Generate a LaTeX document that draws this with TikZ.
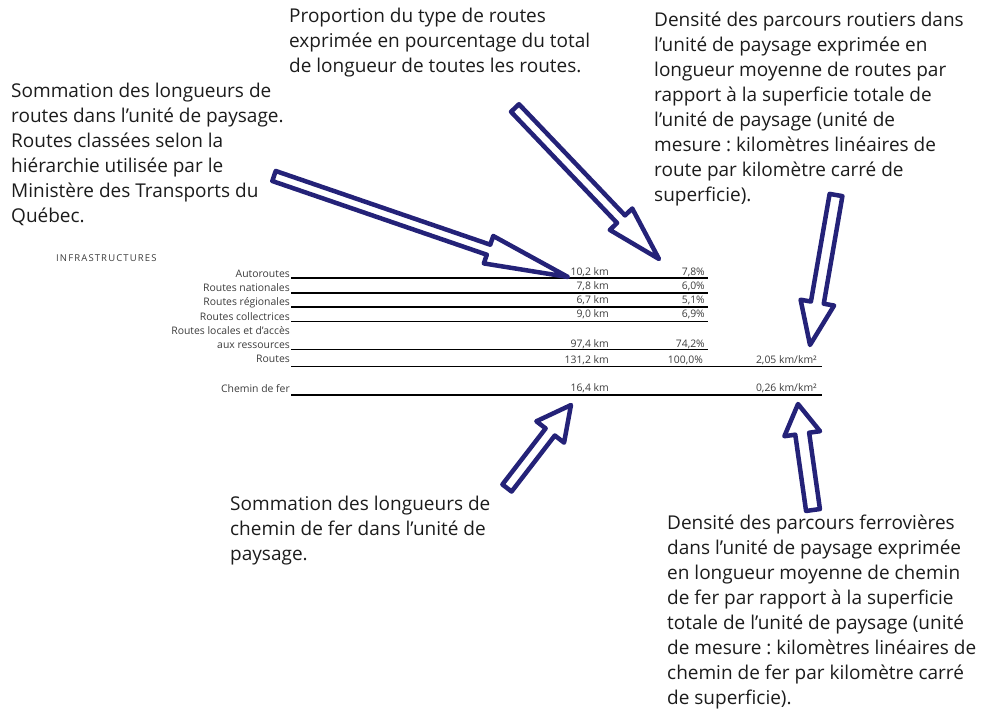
\documentclass[tikz,border=0pt]{standalone}
\usepackage{fontspec}
\setmainfont{Open Sans}[Ligatures={TeX,NoCommon}]
\usepackage{tikz}
\usetikzlibrary{shapes,arrows,calc}
\frenchspacing
\definecolor{navy}{RGB}{36,34,120}
\definecolor{ink}{RGB}{28,28,28}
\definecolor{grayink}{RGB}{60,60,60}
\tikzstyle{note} = [anchor=north west, inner sep=0pt, align=left, text=ink, font=\fontsize{19}{24.9}\selectfont]
\tikzstyle{rowlabel} = [anchor=base east, inner sep=0pt, text=grayink, font=\fontsize{10.4}{12}\selectfont]
\tikzstyle{cell} = [anchor=base east, inner sep=0pt, text=grayink, font=\fontsize{10.4}{12}\selectfont]
\tikzstyle{rule} = [draw, line width=1.3pt]
\tikzstyle{hollow} = [draw=navy, fill=white, line width=4.5pt, line join=round]
\newcommand{\hollowarrow}[5]{%
\draw[hollow] let \p1=(#1), \p2=(#2), \n1={atan2(\y2-\y1,\x2-\x1)}, \n2={veclen(\x2-\x1,\y2-\y1)}, \n3={\n2-#5pt} in
  [shift={(\p1)}, rotate=\n1] (0pt,#3pt) -- (\n3,#3pt) -- (\n3,#4pt) -- (\n2,0pt) -- (\n3,-#4pt) -- (\n3,-#3pt) -- (0pt,-#3pt) -- cycle;}

\begin{document}
\begin{tikzpicture}[x=1pt, y=-1pt]
\useasboundingbox (0,0) rectangle (986,710);

\node[note] (sumroutes) at (11,83) {Sommation des longueurs de\\routes dans l'unité de paysage.\\Routes classées selon la\\hiérarchie utilisée par le\\Ministère des Transports du\\Québec.};
\node[note] (proportion) at (289,8) {Proportion du type de routes\\exprimée en pourcentage du total\\de longueur de toutes les routes.};
\node[note] (densroutes) at (654,12) {Densité des parcours routiers dans\\l'unité de paysage exprimée en\\longueur moyenne de routes par\\rapport à la superficie totale de\\l'unité de paysage (unité de\\mesure : kilomètres linéaires de\\route par kilomètre carré de\\superficie).};
\node[note] (sumfer) at (230,496) {Sommation des longueurs de\\chemin de fer dans l'unité de\\paysage.};
\node[note] (densfer) at (667,515) {Densité des parcours ferrovières\\dans l'unité de paysage exprimée\\en longueur moyenne de chemin\\de fer par rapport à la superficie\\totale de l'unité de paysage (unité\\de mesure : kilomètres linéaires de\\chemin de fer par kilomètre carré\\de superficie).};

\node[anchor=base west, inner sep=0pt, text=grayink, font=\fontsize{9.5}{10}\selectfont\addfontfeature{LetterSpace=12}] (infra) at (56,261.5) {INFRASTRUCTURES};

\node[rowlabel] (autoroutes) at (290,277) {Autoroutes};
\node[rowlabel] (nationales) at (290,291) {Routes nationales};
\node[rowlabel] (regionales) at (290,305) {Routes régionales};
\node[rowlabel] (collectrices) at (290,320) {Routes collectrices};
\node[rowlabel] (locales) at (290,334) {Routes locales et d'accès};
\node[rowlabel] (ressources) at (290,348) {aux ressources};
\node[rowlabel] (routes) at (290,362) {Routes};
\node[rowlabel] (chemin) at (290,392) {Chemin de fer};

\node[cell] (km-auto) at (609,275) {10,2 km};
\node[cell] (km-nat) at (609,289) {7,8 km};
\node[cell] (km-reg) at (609,303) {6,7 km};
\node[cell] (km-coll) at (609,317) {9,0 km};
\node[cell] (km-loc) at (609,347) {97,4 km};
\node[cell] (km-routes) at (609,363) {131,2 km};
\node[cell] (km-fer) at (609,391) {16,4 km};

\node[cell] (pc-auto) at (705,275) {7,8\%};
\node[cell] (pc-nat) at (705,289) {6,0\%};
\node[cell] (pc-reg) at (705,303) {5,1\%};
\node[cell] (pc-coll) at (705,317) {6,9\%};
\node[cell] (pc-loc) at (705,347) {74,2\%};
\node[cell] (pc-routes) at (703,363) {100,0\%};

\node[cell] (dens-routes) at (817,363) {2,05 km/km²};
\node[cell] (dens-fer) at (817,391) {0,26 km/km²};

\path [rule] (291,278) -- (708,278);
\path [rule] (291,293) -- (708,293);
\path [rule] (291,307) -- (708,307);
\path [rule] (291,321.5) -- (708,321.5);
\path [rule] (291,349.5) -- (708,349.5);
\path [rule] (291,366.5) -- (822,366.5);
\path [rule] (291,395) -- (822,395);

\coordinate (tailA) at (274,176);
\coordinate (tipA) at (568,277);
\coordinate (tailB) at (515,108);
\coordinate (tipB) at (659,259);
\coordinate (tailC) at (836,195);
\coordinate (tipC) at (810,345);
\coordinate (tailD) at (507,488);
\coordinate (tipD) at (571,405);
\coordinate (tailE) at (813,510);
\coordinate (tipE) at (798,404);

\hollowarrow{tailA}{tipA}{5.3}{14.5}{84}
\hollowarrow{tailB}{tipB}{5.5}{15.5}{55}
\hollowarrow{tailC}{tipC}{6.5}{17}{43}
\hollowarrow{tailD}{tipD}{5.8}{17.5}{34}
\hollowarrow{tailE}{tipE}{7}{18}{30}
\end{tikzpicture}
\end{document}
